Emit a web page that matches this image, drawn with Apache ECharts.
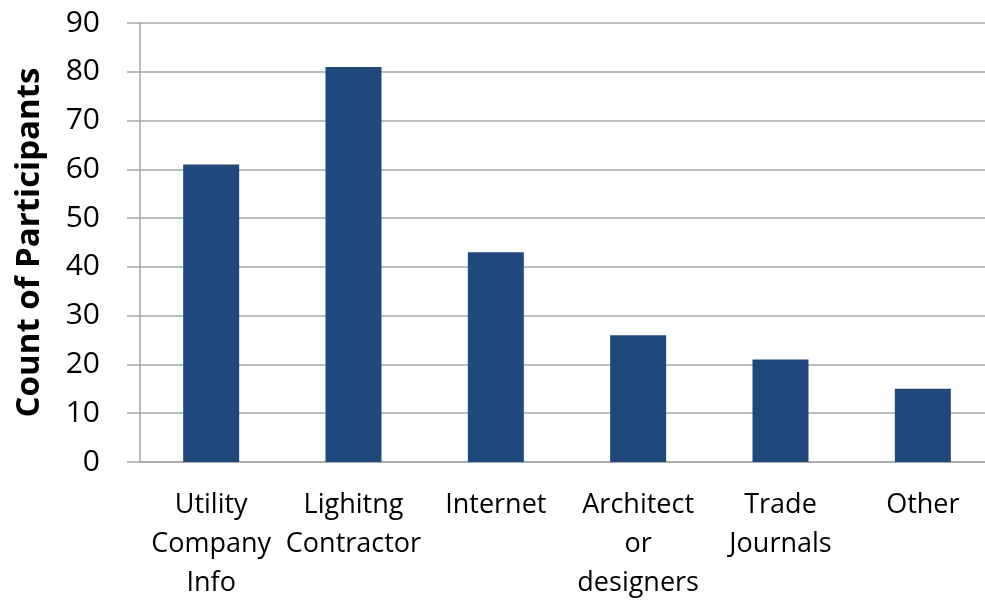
<!DOCTYPE html>
<html><head><meta charset="utf-8">
<script src="https://cdn.jsdelivr.net/npm/echarts@6/dist/echarts.min.js"></script>
<style>html,body{margin:0;padding:0;background:#fff;overflow:hidden}#c{width:985px;height:602px}</style>
</head><body><div id="c"></div>
<script>
const categories = ['Utility\nCompany\nInfo', 'Lighitng\nContractor', 'Internet', 'Architect\nor\ndesigners', 'Trade\nJournals', 'Other'];
const counts = [61, 81, 43, 26, 21, 15];
const yTitle = 'Count of Participants';

const chart = echarts.init(document.getElementById('c'));
chart.setOption({
  animation: false,
  grid: { left: 140, right: -9, top: 23, bottom: 140, outerBoundsMode: 'none', containLabel: false },
  xAxis: {
    type: 'category',
    data: categories,
    axisLine: { lineStyle: { color: '#A6A6A6', width: 1.5 } },
    axisTick: { show: false },
    axisLabel: { color: '#000', fontSize: 27, lineHeight: 39, margin: 24, fontFamily: 'Open Sans', interval: 0 }
  },
  yAxis: {
    type: 'value', min: 0, max: 90, interval: 10,
    name: yTitle, nameLocation: 'middle', nameGap: 94, nameRotate: 90,
    nameTextStyle: { color: '#000', fontSize: 33, fontWeight: 'bold', fontFamily: 'Open Sans' },
    axisLine: { show: true, lineStyle: { color: '#A6A6A6', width: 1.5 } },
    axisTick: { show: true, length: 13, lineStyle: { color: '#A6A6A6', width: 1.5 } },
    axisLabel: { color: '#000', fontSize: 30, margin: 40, fontFamily: 'Open Sans' },
    splitLine: { lineStyle: { color: '#A6A6A6', width: 1.5 } }
  },
  series: [{
    type: 'bar', data: counts, barWidth: 56,
    itemStyle: { color: '#1F497D' }
  }]
});
</script></body></html>
